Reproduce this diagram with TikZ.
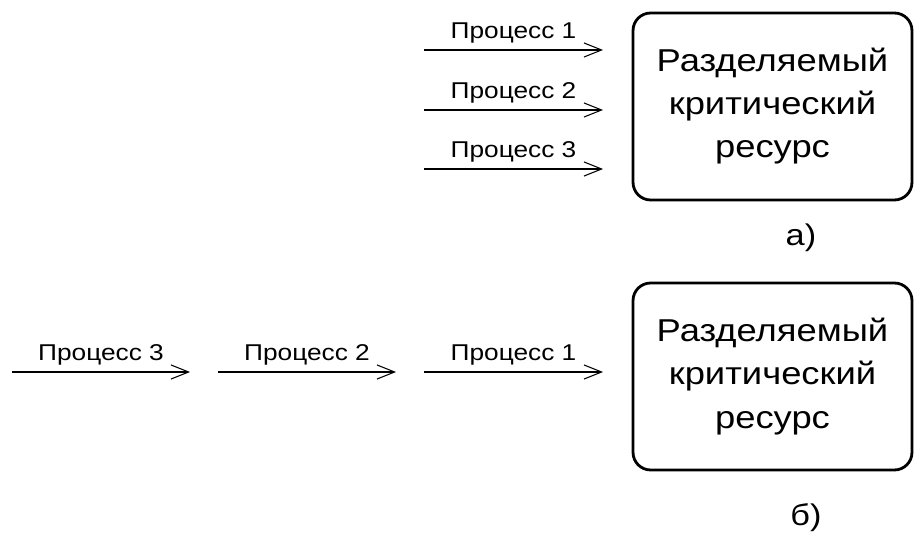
\documentclass[tikz,border=0pt]{standalone}
\usepackage{fontspec}
\setmainfont{Liberation Sans}[FakeStretch=1.15]
\usetikzlibrary{arrows.meta}

\begin{document}
\begin{tikzpicture}[x=0.02cm, y=-0.02cm, >={Straight Barb[length=10pt,width=8pt]}, auto]
 \tikzstyle{resource}=[draw, line width=1.6pt, rounded corners=10pt, minimum width=5.58cm, minimum height=3.74cm, align=center, font=\fontsize{18}{24.5}\selectfont]
 \tikzstyle{flow}=[line width=0.6pt]
 \tikzstyle{proc}=[font=\fontsize{13}{15}\selectfont, inner sep=3.5pt]
 \tikzstyle{caption}=[font=\fontsize{17}{20}\selectfont]

\useasboundingbox (0,0) rectangle (915,536);

% a) parallel
\node[resource] (R1) at (772.5,106.5) {\raisebox{-4pt}{\parbox{5cm}{\centering Разделяемый\\критический\\ресурс}}};
\coordinate (A1) at (424,50);  \coordinate (B1) at (603,50);
\coordinate (A2) at (424,110); \coordinate (B2) at (603,110);
\coordinate (A3) at (424,169); \coordinate (B3) at (603,169);
\node[caption] (Ca) at (801,238) {а)};

\path[->, flow] (A1) edge node [proc] {Процесс 1} (B1)
                (A2) edge node [proc] {Процесс 2} (B2)
                (A3) edge node [proc] {Процесс 3} (B3);

% b) queue
\node[resource] (R2) at (772.5,376.5) {\raisebox{-4pt}{\parbox{5cm}{\centering Разделяемый\\критический\\ресурс}}};
\coordinate (Q1) at (12,372);  \coordinate (Q2) at (190,372);
\coordinate (Q3) at (218,372); \coordinate (Q4) at (396,372);
\coordinate (Q5) at (424,372); \coordinate (Q6) at (603,372);
\node[caption] (Cb) at (806,518) {б)};

\path[->, flow] (Q1) edge node [proc] {Процесс 3} (Q2)
                (Q3) edge node [proc] {Процесс 2} (Q4)
                (Q5) edge node [proc] {Процесс 1} (Q6);
\end{tikzpicture}
\end{document}
